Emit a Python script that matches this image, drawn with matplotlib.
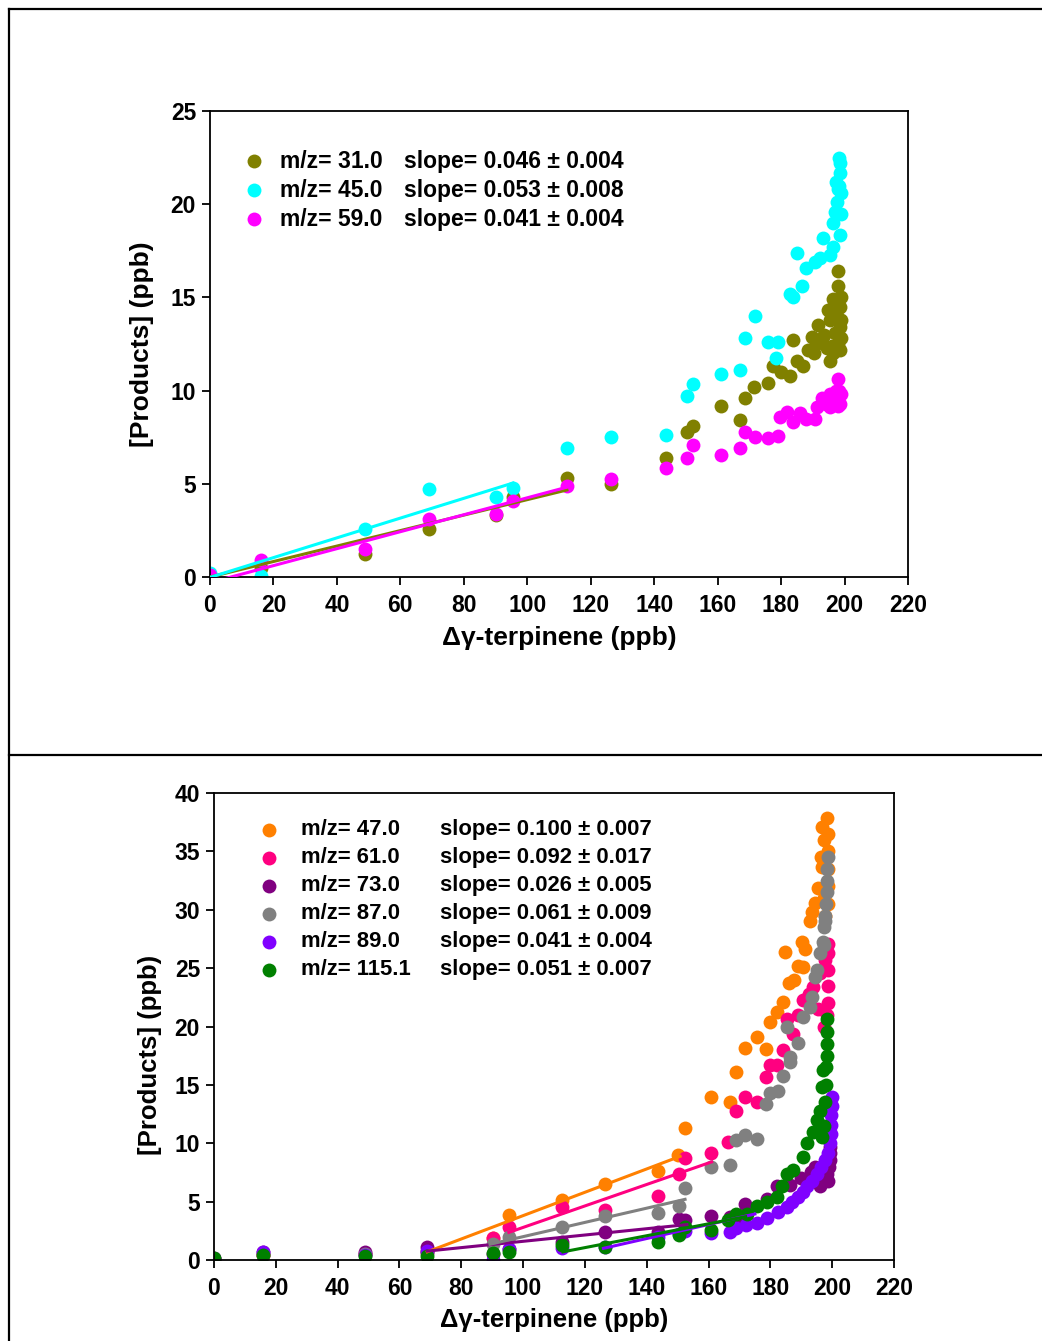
import numpy as np
import matplotlib
matplotlib.use("Agg")
import matplotlib.pyplot as plt
from matplotlib.lines import Line2D

plt.rcParams["font.family"] = ["Liberation Sans", "DejaVu Sans"]
plt.rcParams["font.weight"] = "bold"

# ---------- top panel data ----------
top_labels = ["m/z= 31.0", "m/z= 45.0", "m/z= 59.0"]
top_slopes = ["slope= 0.046 ± 0.004", "slope= 0.053 ± 0.008", "slope= 0.041 ± 0.004"]
top_colors = ["#808000", "#00FFFF", "#FF00FF"]

olive_x = [0, 16, 49, 69, 90, 95.5, 112.5, 126.4, 143.7, 150.3, 152.2, 161, 167, 168.6, 171.5,
           175.8, 177.5, 180, 182.8, 183.7, 185, 187, 188.5, 189.7, 191.6, 192.9, 194.4, 195.4,
           194.8, 196.4, 196.4, 197, 198, 198, 198.6, 198.6, 198.6, 193.5, 195.5, 197.5, 198.8,
           199, 198.9, 197.8, 196, 190.5, 191]
olive_y = [0, 0.5, 1.25, 2.6, 3.3, 4.3, 5.3, 5.0, 6.4, 7.8, 8.1, 9.2, 8.4, 9.6, 10.2,
           10.4, 11.3, 11.0, 10.8, 12.7, 11.6, 11.3, 12.2, 12.9, 13.5, 12.6, 12.3, 11.6,
           14.3, 14.9, 12.0, 13.1, 16.4, 15.6, 14.5, 13.4, 12.2, 13.0, 13.8, 14.0, 15.0,
           13.8, 12.8, 12.5, 12.4, 12.0, 12.5]

cyan_x = [0, 16, 49, 69, 90, 95.5, 112.5, 126.4, 143.7, 150.3, 152.2, 161, 167, 168.6, 171.8,
          175.8, 179, 178.4, 182.8, 183.7, 185, 186.6, 188, 190.6, 192.3, 193.2, 195.4, 196.4,
          196.4, 197.6, 198, 198.6, 198.2, 198.6, 198.8, 198.9, 198.6, 197, 197.3, 198.3]
cyan_y = [0.2, 0.05, 2.6, 4.7, 4.3, 4.8, 6.9, 7.5, 7.6, 9.7, 10.35, 10.9, 11.1, 12.8, 14.0,
          12.6, 12.6, 11.75, 15.2, 15.0, 17.4, 15.6, 16.6, 16.9, 17.1, 18.2, 17.3, 17.7,
          19.0, 20.1, 20.8, 21.7, 22.5, 18.35, 19.5, 20.6, 22.2, 19.6, 21.2, 21.0]

magenta_x = [0, 16, 49, 69, 90, 95.5, 112.5, 126.4, 143.7, 150.3, 152.2, 161, 167, 168.6, 171.8,
             175.8, 179, 179.6, 182, 183.7, 186, 188, 190.6, 191.2, 192.9, 194, 195.4, 195.4,
             196.5, 197.3, 198, 198.2, 198.6, 198.8, 197.8]
magenta_y = [0.1, 0.9, 1.5, 3.1, 3.4, 4.1, 4.9, 5.25, 5.85, 6.4, 7.1, 6.55, 6.9, 7.8, 7.5,
             7.45, 7.55, 8.6, 8.85, 8.3, 8.8, 8.5, 8.5, 9.1, 9.6, 9.3, 9.8, 9.1,
             9.5, 10.0, 10.6, 10.0, 9.3, 9.8, 9.2]

top_x = [olive_x, cyan_x, magenta_x]
top_y = [olive_y, cyan_y, magenta_y]
# fitted lines as drawn: slope, intercept, x start, x end
top_fit_slope = [0.0415, 0.053, 0.0455]
top_fit_icpt = [0.0, -0.02, -0.3]
top_fit_x0 = [0, 0, 0]
top_fit_x1 = [112.5, 95.5, 112.5]

# ---------- bottom panel data ----------
bot_labels = ["m/z= 47.0", "m/z= 61.0", "m/z= 73.0", "m/z= 87.0", "m/z= 89.0", "m/z= 115.1"]
bot_slopes = ["slope= 0.100 ± 0.007", "slope= 0.092 ± 0.017", "slope= 0.026 ± 0.005",
              "slope= 0.061 ± 0.009", "slope= 0.041 ± 0.004", "slope= 0.051 ± 0.007"]
bot_colors = ["#FF8000", "#FF0080", "#800080", "#808080", "#8000FF", "#008000"]

orange_x = [0, 16, 49, 69, 90.3, 95.4, 112.6, 126.5, 143.6, 150.2, 152.4, 160.8, 167, 168.9,
            171.8, 175.7, 178.6, 179.9, 182.1, 184.1, 186, 187.6, 188.9, 190.6, 184.8, 190.2,
            191.2, 192.8, 193.5, 194.4, 195.4, 196.7, 196.7, 198.3, 198.5, 198.5, 198.5, 198.5,
            198.5, 197.8, 197.5, 196.5, 197.5]
orange_y = [0.1, 0.4, 0.5, 0.8, 1.9, 3.85, 5.1, 6.5, 7.6, 9.0, 11.3, 14.0, 13.5, 16.1,
            18.2, 19.1, 18.1, 20.4, 21.2, 22.1, 23.7, 24.0, 25.2, 25.1, 26.4, 27.2,
            26.6, 29.0, 29.8, 30.6, 31.9, 33.7, 37.1, 37.9, 36.5, 35.0, 33.5, 32.0,
            30.5, 29.5, 31.0, 34.5, 36.0]

pink_x = [0, 16, 49, 69, 90.3, 95.4, 112.6, 126.5, 143.6, 150.4, 152.4, 160.8, 166.3, 168.9,
          171.8, 175.7, 178.6, 179.9, 182.1, 184.1, 185.4, 187.3, 190.6, 193.8, 196, 197.7,
          198.6, 198.8, 198.8, 198.8, 198.6, 198.2, 197.5, 195.5, 192.5, 189]
pink_y = [0.1, 0.4, 0.5, 0.7, 1.9, 2.8, 4.5, 4.3, 5.5, 7.4, 8.7, 9.2, 10.1, 12.8,
          14.0, 13.5, 15.7, 16.7, 16.7, 18.0, 20.6, 19.4, 22.3, 23.4, 24.6, 25.7,
          27.1, 26.3, 24.8, 23.5, 22.0, 21.0, 20.0, 21.5, 22.8, 21.0]

purple_x = [0, 16, 49, 69, 90.3, 95.4, 112.6, 126.5, 143.6, 150.4, 152.4, 160.8, 167, 169,
            171.8, 178.9, 182, 186.4, 190, 193, 196, 198.3, 199, 199.2, 199.3, 199.4, 198.6,
            197.5, 194.5]
purple_y = [0.15, 0.7, 0.7, 1.1, 0.5, 0.9, 1.5, 2.4, 2.4, 3.5, 3.4, 3.8, 3.7, 3.6,
            4.8, 5.2, 6.3, 6.4, 7.0, 7.5, 6.3, 7.4, 8.0, 8.6, 9.2, 9.7, 6.8,
            7.0, 8.0]

gray_x = [0, 16, 49, 69, 90.3, 95.4, 112.6, 126.5, 143.6, 150.4, 152.4, 160.8, 167, 168.9,
          171.8, 175.7, 178.6, 179.9, 182.5, 184.1, 186.4, 186.4, 188.9, 185.4, 190.6, 192.8,
          193.5, 194.4, 195, 196, 197, 197.5, 197.8, 198, 198.2, 198.3, 198.4, 198.5, 197.6,
          197.2]
gray_y = [0.1, 0.4, 0.5, 0.6, 1.4, 2.0, 2.8, 3.8, 4.0, 4.6, 6.2, 8.0, 8.1, 10.3,
          10.7, 10.4, 13.4, 14.3, 14.5, 15.8, 17.0, 17.4, 18.6, 20.0, 20.8, 21.7,
          22.5, 24.2, 24.8, 26.3, 27.2, 28.5, 29.5, 30.5, 31.5, 32.5, 33.5, 34.5, 29.0,
          27.0]

violet_x = [0, 16, 49, 69, 90.3, 95.4, 112.6, 126.5, 143.6, 150.4, 152.4, 160.8, 167, 169,
            172, 175.7, 179, 182.5, 185.4, 187, 188.9, 190.5, 191.9, 193.5, 195, 196.5, 197.7,
            198.5, 199.3, 199.5, 199.6, 199.7, 199.8, 200]
violet_y = [0.1, 0.7, 0.4, 0.8, 0.0, 0.9, 1.0, 1.1, 2.0, 2.2, 2.5, 2.3, 2.4, 2.7,
            3.0, 3.2, 3.6, 4.1, 4.5, 5.0, 5.4, 5.8, 6.3, 6.8, 7.4, 8.0, 8.6,
            9.2, 10.0, 10.8, 11.6, 12.4, 13.2, 14.0]

green_x = [0, 16, 49, 69, 90.3, 95.4, 112.6, 126.5, 143.6, 150.4, 152.4, 160.8, 166.3, 169,
           172.4, 175.7, 178.9, 182.1, 183.8, 185.4, 187.3, 190.6, 191.9, 193.8, 195, 196,
           196.7, 197, 197.8, 198, 198, 198.2, 198.3, 198.3, 198.3, 197.5, 196.8]
green_y = [0.15, 0.4, 0.3, 0.3, 0.6, 0.65, 1.3, 1.1, 1.5, 2.1, 2.8, 2.6, 3.4, 3.9,
           3.9, 4.6, 5.0, 5.4, 6.3, 7.4, 7.7, 8.8, 10.0, 11.0, 12.0, 12.8,
           14.8, 16.3, 13.5, 15.0, 16.5, 17.5, 18.5, 19.5, 20.6, 11.5, 10.5]

bot_x = [orange_x, pink_x, purple_x, gray_x, violet_x, green_x]
bot_y = [orange_y, pink_y, purple_y, gray_y, violet_y, green_y]
bot_fit_slope = [0.100, 0.092, 0.027, 0.061, 0.060, 0.051]
bot_fit_icpt = [-6.2, -6.41, -1.1, -4.1, -6.56, -5.06]
bot_fit_x0 = [69, 95.4, 69, 89.3, 126, 112.9]
bot_fit_x1 = [150.8, 161, 153, 152.4, 175, 172]

W, H = 1042, 1341
fig = plt.figure(figsize=(W / 100, H / 100), dpi=100)

# outer frame lines
fig.add_artist(Line2D([9 / W, 9 / W], [0, 1 - 9 / H], color="black", lw=1.6))
fig.add_artist(Line2D([9 / W, 1], [1 - 9 / H, 1 - 9 / H], color="black", lw=1.6))
fig.add_artist(Line2D([9 / W, 1], [1 - 755 / H, 1 - 755 / H], color="black", lw=1.6))


def style_axes(ax, ymax, ystep):
    ax.set_xlim(0, 220)
    ax.set_ylim(0, ymax)
    ax.set_xticks(np.arange(0, 221, 20))
    ax.set_yticks(np.arange(0, ymax + 1, ystep))
    ax.tick_params(direction="out", length=6, width=1.3, labelsize=16.5, pad=4)
    ax.tick_params(axis="x", pad=6)
    for lab in ax.get_xticklabels() + ax.get_yticklabels():
        lab.set_fontweight("bold")
    for sp in ax.spines.values():
        sp.set_linewidth(1.3)


def draw_panel(ax, xs, ys, colors, slopes, icpts, x0s, x1s):
    for x, y, c in zip(xs, ys, colors):
        ax.plot(x, y, "o", color=c, ms=10, mec="none", zorder=2)
    for c, m, b, a0, a1 in zip(colors, slopes, icpts, x0s, x1s):
        fx = np.array([a0, a1])
        ax.plot(fx, m * fx + b, "-", color=c, lw=2.2, zorder=3)


def draw_key(ax, labels, slopes, colors, mx, tx, sx, y0, dy, fs):
    for i, (lab, sl, c) in enumerate(zip(labels, slopes, colors)):
        yy = y0 - i * dy
        ax.plot([mx], [yy], "o", color=c, ms=10, mec="none", transform=ax.transAxes,
                clip_on=False, zorder=4)
        ax.text(tx, yy, lab, transform=ax.transAxes, fontsize=fs, fontweight="bold",
                va="center", ha="left")
        ax.text(sx, yy, sl, transform=ax.transAxes, fontsize=fs, fontweight="bold",
                va="center", ha="left")


# top panel
ax1 = fig.add_axes([210 / W, 1 - 577 / H, 698 / W, 466 / H])
draw_panel(ax1, top_x, top_y, top_colors, top_fit_slope, top_fit_icpt, top_fit_x0, top_fit_x1)
style_axes(ax1, 25, 5)
draw_key(ax1, top_labels, top_slopes, top_colors, 0.063, 0.100, 0.278, 0.892, 0.0622, 16.5)
ax1.set_xlabel("Δγ-terpinene (ppb)", fontsize=19, fontweight="bold", labelpad=7)
ax1.set_ylabel("[Products] (ppb)", fontsize=19, fontweight="bold", labelpad=12)

# bottom panel
ax2 = fig.add_axes([214 / W, 1 - 1260 / H, 680 / W, 467 / H])
draw_panel(ax2, bot_x, bot_y, bot_colors, bot_fit_slope, bot_fit_icpt, bot_fit_x0, bot_fit_x1)
style_axes(ax2, 40, 5)
draw_key(ax2, bot_labels, bot_slopes, bot_colors, 0.081, 0.128, 0.332, 0.921, 0.06, 15.9)
ax2.set_xlabel("Δγ-terpinene (ppb)", fontsize=18.5, fontweight="bold", labelpad=6)
ax2.set_ylabel("[Products] (ppb)", fontsize=18.5, fontweight="bold")
ax2.yaxis.set_label_coords(-0.0765, 0.439)

fig.savefig("out.png", dpi=100)
